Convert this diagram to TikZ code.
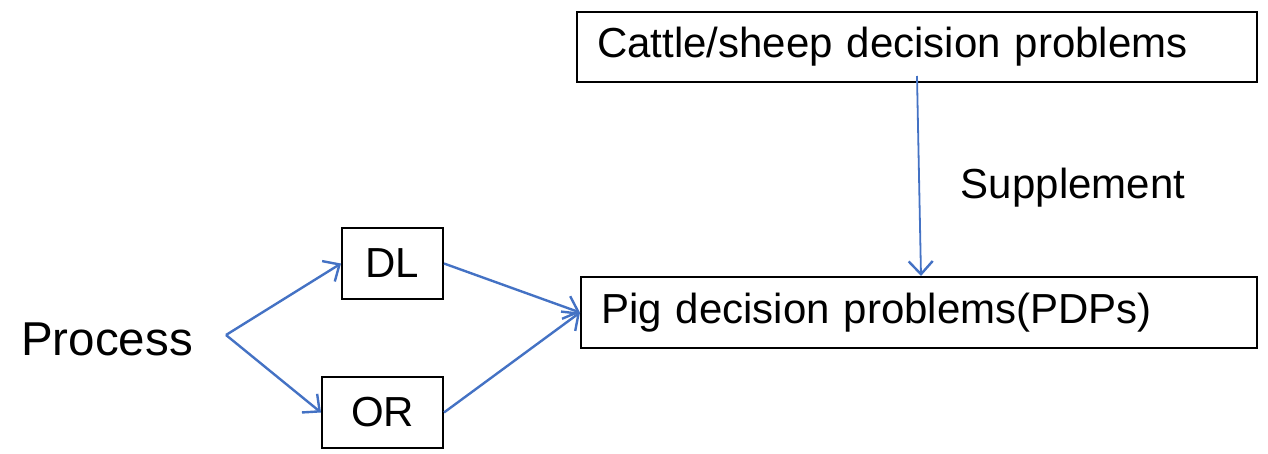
\documentclass[tikz,border=0pt]{standalone}
\usepackage{fontspec}
\setmainfont{Liberation Sans}
\usetikzlibrary{arrows.meta}
\definecolor{arrowblue}{HTML}{4472C4}
\begin{document}
\begin{tikzpicture}[x=1pt,y=-1pt,
  box/.style={draw=black,line width=2pt,inner sep=0pt,minimum height=70pt},
  lbl/.style={font=\fontsize{42}{50}\selectfont},
  conn/.style={draw=arrowblue,line width=2.4pt,-{Straight Barb[length=13pt,width=24pt,line width=2.4pt]}}]
\useasboundingbox (0,0) rectangle (1268,454);
\node[box,lbl,minimum width=680pt,text width=640pt,align=left] (top) at (917,47) {Cattle/sheep decision problems};
\node[box,lbl,minimum width=676pt,text width=636pt,align=left,minimum height=71pt] (pig) at (919,312.5) {\raisebox{-3pt}{Pig decision problems(PDPs)}};
\node[box,lbl,minimum width=101pt,minimum height=71pt] (dl) at (392.5,263.5) {DL};
\node[box,lbl,minimum width=121pt,minimum height=71pt] (or) at (382.5,412.5) {OR};
\node[font=\fontsize{47.5}{56}\selectfont] (proc) at (107,339) {Process};
\node[lbl] (supp) at (1073,188) {Supplement};
\coordinate (split) at (226,335);
\draw[conn] (split) -- (dl.west);
\draw[conn] (split) -- (or.west);
\draw[conn] (dl.east) -- (pig.west);
\draw[conn] (or.east) -- (pig.west);
\draw[conn,line width=1.8pt] ([yshift=7pt]top.south) -- ([xshift=2pt]pig.north);
\end{tikzpicture}
\end{document}
